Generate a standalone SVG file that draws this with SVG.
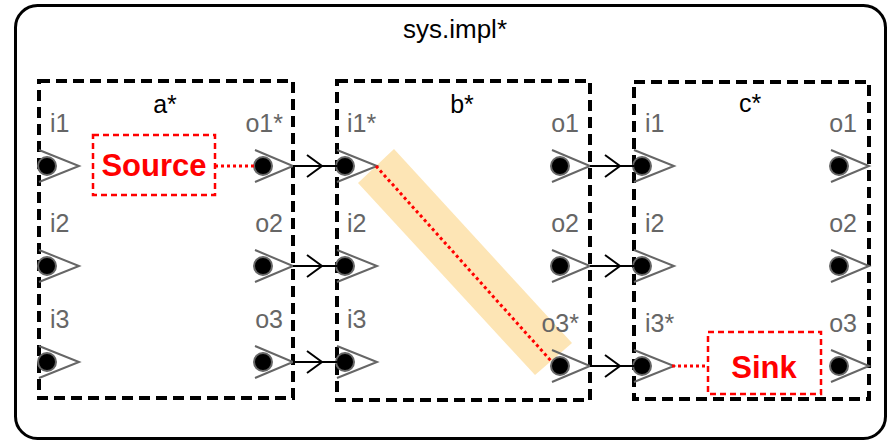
<svg xmlns="http://www.w3.org/2000/svg" xmlns:xlink="http://www.w3.org/1999/xlink" width="888" height="444" viewBox="0 0 888 444">
<style>
.comp{fill:none;stroke:#000;stroke-width:4;stroke-dasharray:11,6}
.title{font-family:"Liberation Sans",Arial,sans-serif;font-size:25px;fill:#000;text-anchor:middle}
.plabel{font-family:"Liberation Sans",Arial,sans-serif;font-size:25px;fill:#666}
.pend{text-anchor:end}
.chev{fill:none;stroke:#666;stroke-width:2}
.dot{fill:#000;stroke:#666;stroke-width:2}
.conn{fill:none;stroke:#000;stroke-width:2}
.ann{fill:#fff;stroke:#f00;stroke-width:2.5;stroke-dasharray:6,4}
.anntext{font-family:"Liberation Sans",Arial,sans-serif;font-size:31px;font-weight:bold;fill:#f00;text-anchor:middle}
.flow{fill:none;stroke:#f00;stroke-width:3;stroke-dasharray:3,3}
</style>
<defs>
<g id="inport"><polyline class="chev" points="0,-16 40,0 0,16"/><circle class="dot" cx="8" cy="0" r="9"/></g>
<g id="outport"><polyline class="chev" points="-38,-16 0,0 -38,16"/><circle class="dot" cx="-30" cy="0" r="9"/></g>
<marker id="open" markerUnits="userSpaceOnUse" markerWidth="20" markerHeight="26" viewBox="-17 -13 20 26" refX="0" refY="0" orient="auto"><path d="M-15,-11 L0,0 L-15,11" fill="none" stroke="#000" stroke-width="2"/></marker>
</defs>
<rect id="sys" x="15.5" y="5.5" width="870" height="433" rx="22" fill="#fff" stroke="#000" stroke-width="3"/>
<text class="title" x="455" y="38" style="font-size:26px">sys.impl*</text>

<polygon id="highlight" points="394,149 358,183 535,375 572,343" fill="#fde5b5"/>

<g id="a">
<rect class="comp" x="39" y="81" width="254" height="317"/>
<text class="title" x="165" y="113">a*</text>
<text class="plabel" x="50" y="132">i1</text>
<text class="plabel" x="50" y="232">i2</text>
<text class="plabel" x="50" y="328">i3</text>
<text class="plabel pend" x="283" y="132">o1*</text>
<text class="plabel pend" x="283" y="232">o2</text>
<text class="plabel pend" x="283" y="328">o3</text>
<use xlink:href="#inport" x="39" y="166"/>
<use xlink:href="#inport" x="39" y="266"/>
<use xlink:href="#inport" x="39" y="362"/>
<use xlink:href="#outport" x="293" y="166"/>
<use xlink:href="#outport" x="293" y="266"/>
<use xlink:href="#outport" x="293" y="362"/>
</g>

<g id="b">
<rect class="comp" x="337" y="81" width="253" height="319"/>
<text class="title" x="462" y="113">b*</text>
<text class="plabel" x="347" y="132">i1*</text>
<text class="plabel" x="347" y="232">i2</text>
<text class="plabel" x="347" y="328">i3</text>
<text class="plabel pend" x="579" y="132">o1</text>
<text class="plabel pend" x="579" y="232">o2</text>
<text class="plabel pend" x="579" y="332">o3*</text>
<use xlink:href="#inport" x="337" y="166"/>
<use xlink:href="#inport" x="337" y="266"/>
<use xlink:href="#inport" x="337" y="362"/>
<use xlink:href="#outport" x="590" y="166"/>
<use xlink:href="#outport" x="590" y="266"/>
<use xlink:href="#outport" x="590" y="366"/>
</g>

<g id="c">
<rect class="comp" x="634" y="82" width="235" height="317"/>
<text class="title" x="750" y="112">c*</text>
<text class="plabel" x="645" y="132">i1</text>
<text class="plabel" x="645" y="232">i2</text>
<text class="plabel" x="645" y="332">i3*</text>
<text class="plabel pend" x="857" y="132">o1</text>
<text class="plabel pend" x="857" y="232">o2</text>
<text class="plabel pend" x="857" y="332">o3</text>
<use xlink:href="#inport" x="634" y="166"/>
<use xlink:href="#inport" x="634" y="266"/>
<use xlink:href="#inport" x="634" y="366"/>
<use xlink:href="#outport" x="869" y="166"/>
<use xlink:href="#outport" x="869" y="266"/>
<use xlink:href="#outport" x="869" y="366"/>
</g>

<g id="connectors">
<path class="conn" marker-mid="url(#open)" d="M293,166 L322,166 L337,166"/>
<path class="conn" marker-mid="url(#open)" d="M293,266 L322,266 L337,266"/>
<path class="conn" marker-mid="url(#open)" d="M293,362 L322,362 L337,362"/>
<path class="conn" marker-mid="url(#open)" d="M590,166 L620,166 L634,166"/>
<path class="conn" marker-mid="url(#open)" d="M590,266 L620,266 L634,266"/>
<path class="conn" marker-mid="url(#open)" d="M590,366 L620,366 L634,366"/>
<line class="flow" x1="376" y1="166" x2="552" y2="362"/>
<line class="flow" x1="215" y1="166" x2="255" y2="166"/>
<line class="flow" x1="672" y1="366" x2="707" y2="366"/>
</g>

<g id="source">
<rect class="ann" x="93" y="135" width="122" height="60"/>
<text class="anntext" x="154" y="176">Source</text>
</g>
<g id="sink">
<rect class="ann" x="708" y="332" width="113" height="62"/>
<text class="anntext" x="764" y="378">Sink</text>
</g>
</svg>
